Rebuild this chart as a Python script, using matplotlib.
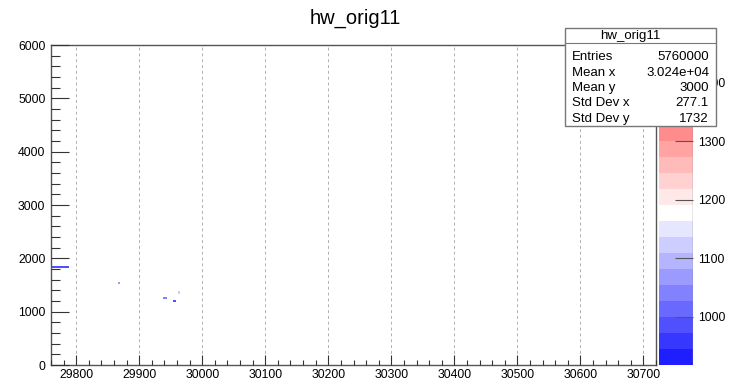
import matplotlib
matplotlib.use("Agg")
import matplotlib.pyplot as plt
import numpy as np
from matplotlib.colors import ListedColormap, BoundaryNorm
from matplotlib.patches import Rectangle
from matplotlib.ticker import MultipleLocator
from matplotlib.lines import Line2D

plt.rcParams['font.family'] = ['Liberation Sans', 'DejaVu Sans']

# histogram range
x_min, x_max = 29760, 30720
y_min, y_max = 0, 6000
background = 1176

# cells that stand out from the background (x0, x1, y0, y1, content)
cell_x0 = [29760, 29866, 29939, 29955, 29962]
cell_x1 = [29788, 29869, 29944, 29958, 29964]
cell_y0 = [1830, 1530, 1240, 1180, 1350]
cell_y1 = [1860, 1560, 1265, 1205, 1375]
cell_z = [985, 1068, 1040, 990, 1120]

z_min, z_max = 918, 1464
z_ticks = [1000, 1100, 1200, 1300, 1400]

stats_names = ['Entries', 'Mean x', 'Mean y', 'Std Dev x', 'Std Dev y']
stats_values = ['5760000', '3.024e+04', '3000', '277.1', '1732']

# palette: 20 bands blue -> white -> red
cols = []
for k in range(1, 10):
    c = (255 - 25 * (10 - k)) / 255
    cols.append((c, c, 1.0))
cols.append((1.0, 1.0, 1.0))
for k in range(11, 21):
    c = (255 - 23 * (k - 10)) / 255
    cols.append((1.0, c, c))
cmap = ListedColormap(cols)
levels = np.linspace(z_min, z_max, 21)
norm = BoundaryNorm(levels, cmap.N)

# binned content
bx, by = 2, 20
nx = (x_max - x_min) // bx
ny = (y_max - y_min) // by
grid = np.full((ny, nx), float(background))
for x0, x1, y0, y1, z in zip(cell_x0, cell_x1, cell_y0, cell_y1, cell_z):
    i0 = (x0 - x_min) // bx
    i1 = max(i0 + 1, -(-(x1 - x_min) // bx))
    j0 = (y0 - y_min) // by
    j1 = max(j0 + 1, -(-(y1 - y_min) // by))
    grid[j0:j1, i0:i1] = z

W, H = 744, 385
fig = plt.figure(figsize=(W / 100, H / 100), dpi=100)

ax = fig.add_axes([51 / W, 1 - 365 / H, 605 / W, 320 / H])
im = ax.imshow(grid, extent=[x_min, x_max, y_min, y_max], origin='lower',
               aspect='auto', cmap=cmap, norm=norm, interpolation='nearest')
ax.set_xlim(x_min, x_max)
ax.set_ylim(y_min, y_max)

ax.xaxis.set_major_locator(MultipleLocator(100))
ax.xaxis.set_minor_locator(MultipleLocator(20))
ax.yaxis.set_major_locator(MultipleLocator(1000))
ax.yaxis.set_minor_locator(MultipleLocator(200))
ax.tick_params(axis='x', which='major', direction='in', length=7.2, width=0.8,
               color='#333333', labelsize=8.8, pad=3)
ax.tick_params(axis='x', which='minor', direction='in', length=3.6, width=0.8,
               color='#333333')
ax.tick_params(axis='y', which='major', direction='in', length=13, width=0.8,
               color='#333333', labelsize=8.8, pad=4)
ax.tick_params(axis='y', which='minor', direction='in', length=6.5, width=0.8,
               color='#333333')
ax.grid(True, axis='x', which='major', color='#b0b0b0', linestyle=(0, (3, 3)),
        linewidth=0.7)
ax.set_axisbelow(False)
for s in ax.spines.values():
    s.set_color('#555555')
    s.set_linewidth(1.0)

# colour scale
cax = fig.add_axes([659 / W, 1 - 365 / H, 34 / W, 320 / H])
cb = fig.colorbar(im, cax=cax, ticks=z_ticks)
cb.outline.set_visible(False)
cax.set_ylim(z_min, z_max)
cax.tick_params(direction='in', length=13, width=0.8, color='#555555',
                labelsize=8.8, pad=4)
cax.minorticks_off()
cax.add_line(Line2D([1, 1], [0, 1], transform=cax.transAxes, color='#888888',
                    linewidth=1.0))

fig.text(355 / W, 1 - 18 / H, 'hw_orig11', ha='center', va='center',
         fontsize=14.5)

# stats box
bx0, bx1, by0, by1 = 565, 716, 28, 126
fig.add_artist(Rectangle((bx0 / W, 1 - by1 / H), (bx1 - bx0) / W,
                         (by1 - by0) / H, transform=fig.transFigure,
                         facecolor='white', edgecolor='#777777', linewidth=1.0,
                         zorder=10))
fig.add_artist(Line2D([bx0 / W, bx1 / W], [1 - 43 / H, 1 - 43 / H],
                      transform=fig.transFigure, color='#777777',
                      linewidth=0.8, zorder=11))
fig.text(630 / W, 1 - 36 / H, 'hw_orig11', ha='center', va='center',
         fontsize=9.5, zorder=12)
row_y = np.linspace(57, 119, len(stats_names))
for name, val, yy in zip(stats_names, stats_values, row_y):
    fig.text(572 / W, 1 - yy / H, name, ha='left', va='center',
             fontsize=9.5, zorder=12)
    fig.text(709 / W, 1 - yy / H, val, ha='right', va='center',
             fontsize=9.5, zorder=12)

fig.savefig('out.png', dpi=100)
